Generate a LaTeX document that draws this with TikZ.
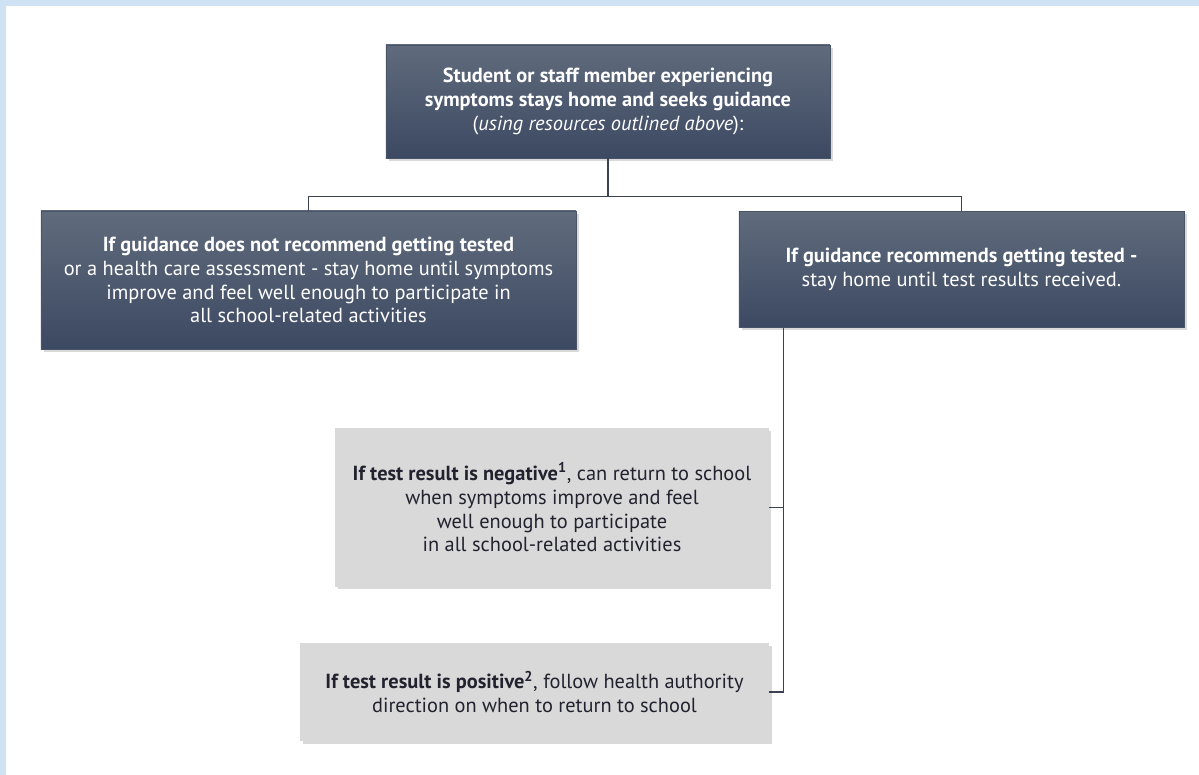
\documentclass[tikz,border=0pt]{standalone}
\usepackage{fontspec}
\setmainfont{PT Sans}
\usetikzlibrary{shadows}

\definecolor{frameblue}{HTML}{CFE2F3}
\definecolor{slatetop}{HTML}{606B7C}
\definecolor{slatebottom}{HTML}{3C4962}
\definecolor{slateedge}{HTML}{4A5468}
\definecolor{panelgray}{HTML}{D9D9D9}
\definecolor{inkdark}{HTML}{22222F}
\definecolor{linkgray}{HTML}{3B4152}

\tikzset{
  boxtext/.style={align=center, inner sep=0pt, font=\fontsize{14.5}{17}\selectfont},
  darkbox/.style={boxtext, draw=slateedge, line width=0.4pt,
    top color=slatetop, bottom color=slatebottom, text=white,
    drop shadow={shadow xshift=2pt, shadow yshift=-2pt, opacity=0.3}},
  greybox/.style={boxtext, fill=panelgray, text=inkdark,
    drop shadow={shadow xshift=2pt, shadow yshift=-2pt, opacity=0.3}},
  link/.style={draw=linkgray, line width=0.9pt}
}

\begin{document}
\begin{tikzpicture}[x=0.025cm, y=-0.025cm]
    \useasboundingbox (0,0) rectangle (1199,775);
    % Cadre
    \fill[frameblue] (0,0) rectangle (1199,6);
    \fill[frameblue] (0,0) rectangle (6,775);

    % Boites sombres
    \node[darkbox, minimum width=11.1cm, minimum height=2.825cm] (start) at (608,101.5)
    {\textbf{Student or staff member experiencing}\\
     \textbf{symptoms stays home and seeks guidance}\\
     (\textit{using resources outlined above}):};
    \node[darkbox, minimum width=13.375cm, minimum height=3.45cm] (notest) at (308.5,280)
    {\textbf{If guidance does not recommend getting tested}\\
     or a health care assessment - stay home until symptoms\\
     improve and feel well enough to participate in\\
     all school-related activities};
    \node[darkbox, minimum width=11.125cm, minimum height=2.9cm] (test) at (961.5,269.5)
    {\textbf{If guidance recommends getting tested -}\\
     stay home until test results received.};

    % Boites grises
    \node[greybox, minimum width=10.825cm, minimum height=3.95cm] (neg) at (552,507.5)
    {\textbf{If test result is negative\textsuperscript{1}}, can return to school\\
     when symptoms improve and feel\\
     well enough to participate\\
     in all school-related activities};
    \node[greybox, minimum width=11.725cm, minimum height=2.45cm] (pos) at (534.5,692)
    {\textbf{If test result is positive\textsuperscript{2}}, follow health authority\\
     direction on when to return to school};

    % Liaisons
    \coordinate (bus) at ([yshift=-0.95cm]start.south);
    \coordinate (trunk) at ([xshift=1.125cm]test.south west);
    \draw[link] (start.south) -- (bus);
    \draw[link] (notest.north) |- (bus) -| (test.north);
    \draw[link] (trunk) |- (pos.east);
    \draw[link] (neg.east) -- (neg.east -| trunk);
  \end{tikzpicture}
\end{document}
